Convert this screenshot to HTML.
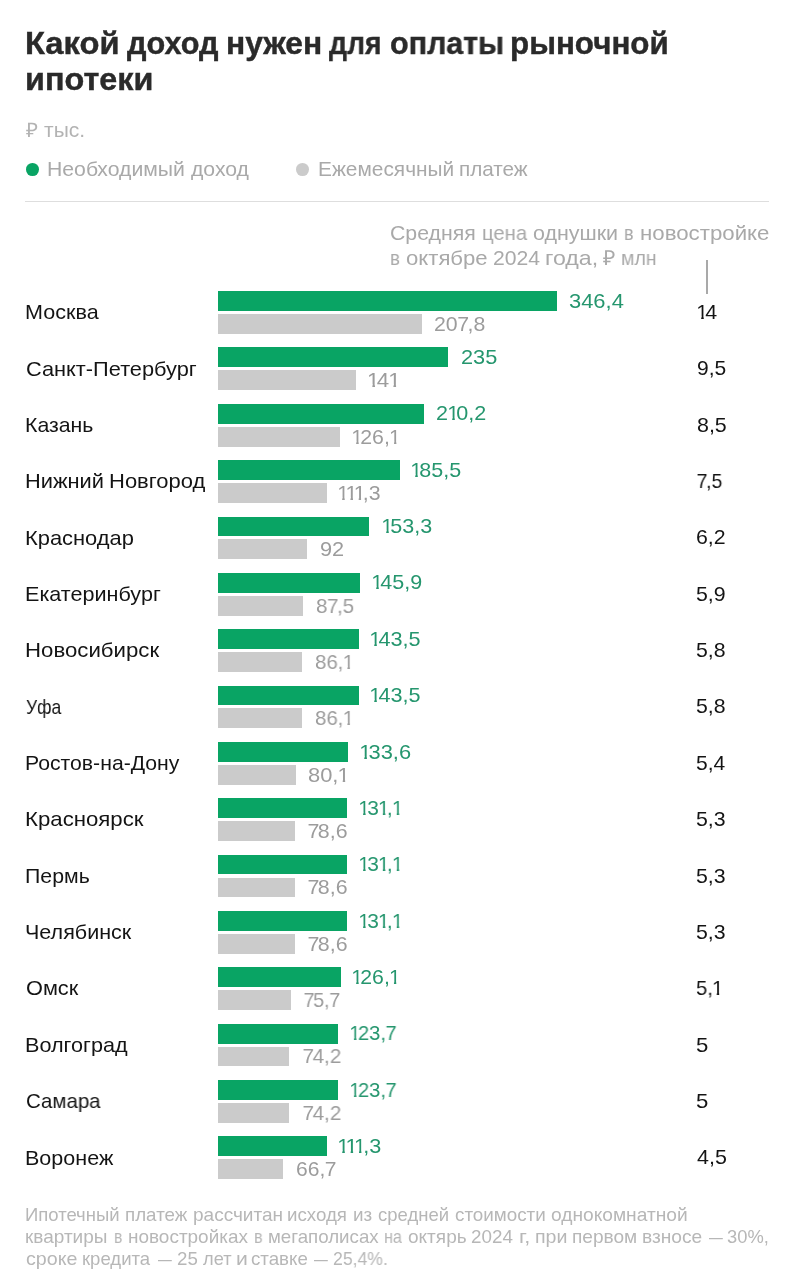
<!DOCTYPE html>
<html><head><meta charset="utf-8"><title>chart</title>
<style>
html,body{margin:0;padding:0;background:#fff;}
body{width:790px;height:1280px;position:relative;overflow:hidden;font-family:"Liberation Sans",sans-serif;}
div{position:absolute;white-space:nowrap;}
.t{transform-origin:0 50%;will-change:transform;}
.o{display:inline-block;margin:0 -0.13em 0 -0.04em;clip-path:polygon(0 0,0.355em 0,0.355em 100%,0.235em 100%,0.235em 68%,0 68%);}
.sv{margin:0 -1.5px 0 -0.5px;}
.dot{width:12.8px;height:12.8px;border-radius:50%;}
.hr{left:25px;top:201.3px;width:744px;height:1.2px;background:#dedede;}
.tick{left:706.2px;top:260px;width:1.4px;height:34px;background:#a9a9a9;}
.bar{left:218.1px;height:19.9px;}
.g{background:#09a464;}
.s{background:#cbcbcb;}
</style></head><body>
<div class="dot" style="left:25.9px;top:162.8px;background:#09a464"></div>
<div class="dot" style="left:296.3px;top:162.8px;background:#cbcbcb"></div>
<div class="hr"></div><div class="tick"></div>
<div class="bar g" style="top:291.10px;width:339.1px"></div>
<div class="bar s" style="top:314.00px;width:203.6px"></div>
<div class="bar g" style="top:347.45px;width:230.1px"></div>
<div class="bar s" style="top:370.35px;width:137.9px"></div>
<div class="bar g" style="top:403.80px;width:205.8px"></div>
<div class="bar s" style="top:426.70px;width:122.3px"></div>
<div class="bar g" style="top:460.15px;width:181.5px"></div>
<div class="bar s" style="top:483.05px;width:108.6px"></div>
<div class="bar g" style="top:516.50px;width:151.0px"></div>
<div class="bar s" style="top:539.40px;width:89.0px"></div>
<div class="bar g" style="top:572.85px;width:142.2px"></div>
<div class="bar s" style="top:595.75px;width:85.4px"></div>
<div class="bar g" style="top:629.20px;width:140.6px"></div>
<div class="bar s" style="top:652.10px;width:84.2px"></div>
<div class="bar g" style="top:685.55px;width:140.6px"></div>
<div class="bar s" style="top:708.45px;width:84.2px"></div>
<div class="bar g" style="top:741.90px;width:130.4px"></div>
<div class="bar s" style="top:764.80px;width:77.7px"></div>
<div class="bar g" style="top:798.25px;width:128.9px"></div>
<div class="bar s" style="top:821.15px;width:76.5px"></div>
<div class="bar g" style="top:854.60px;width:128.9px"></div>
<div class="bar s" style="top:877.50px;width:76.5px"></div>
<div class="bar g" style="top:910.95px;width:128.9px"></div>
<div class="bar s" style="top:933.85px;width:76.5px"></div>
<div class="bar g" style="top:967.30px;width:122.8px"></div>
<div class="bar s" style="top:990.20px;width:72.7px"></div>
<div class="bar g" style="top:1023.65px;width:120.3px"></div>
<div class="bar s" style="top:1046.55px;width:71.4px"></div>
<div class="bar g" style="top:1080.00px;width:120.3px"></div>
<div class="bar s" style="top:1102.90px;width:71.4px"></div>
<div class="bar g" style="top:1136.35px;width:108.9px"></div>
<div class="bar s" style="top:1159.25px;width:64.6px"></div>
<div class="t" style="left:25.00px;top:24.70px;font-size:30.6px;line-height:37px;color:#2a2a2a;transform:scaleX(1.0682);font-weight:bold;-webkit-text-stroke:0.4px #2a2a2a;">Какой</div>
<div class="t" style="left:127.00px;top:24.70px;font-size:30.6px;line-height:37px;color:#2a2a2a;transform:scaleX(1.0024);font-weight:bold;-webkit-text-stroke:0.4px #2a2a2a;">доход</div>
<div class="t" style="left:226.00px;top:24.70px;font-size:30.6px;line-height:37px;color:#2a2a2a;transform:scaleX(1.0388);font-weight:bold;-webkit-text-stroke:0.4px #2a2a2a;">нужен</div>
<div class="t" style="left:329.00px;top:24.70px;font-size:30.6px;line-height:37px;color:#2a2a2a;transform:scaleX(0.9276);font-weight:bold;-webkit-text-stroke:0.4px #2a2a2a;">для</div>
<div class="t" style="left:389.96px;top:24.70px;font-size:30.6px;line-height:37px;color:#2a2a2a;transform:scaleX(0.9951);font-weight:bold;-webkit-text-stroke:0.4px #2a2a2a;">оплаты</div>
<div class="t" style="left:509.89px;top:24.70px;font-size:30.6px;line-height:37px;color:#2a2a2a;transform:scaleX(1.0242);font-weight:bold;-webkit-text-stroke:0.4px #2a2a2a;">рыночной</div>
<div class="t" style="left:25.00px;top:60.70px;font-size:30.6px;line-height:37px;color:#2a2a2a;transform:scaleX(1.0576);font-weight:bold;-webkit-text-stroke:0.4px #2a2a2a;">ипотеки</div>
<div class="t" style="left:25.75px;top:118.17px;font-size:20px;line-height:24px;color:#b3b3b3;transform:scaleX(1.0319);">₽</div>
<div class="t" style="left:44.09px;top:118.17px;font-size:20px;line-height:24px;color:#b3b3b3;transform:scaleX(1.0512);">тыс.</div>
<div class="t" style="left:47.28px;top:156.16px;font-size:20.6px;line-height:25px;color:#a9a9a9;transform:scaleX(1.0300);">Необходимый</div>
<div class="t" style="left:190.78px;top:156.16px;font-size:20.6px;line-height:25px;color:#a9a9a9;transform:scaleX(1.0297);">доход</div>
<div class="t" style="left:317.90px;top:156.16px;font-size:20.6px;line-height:25px;color:#a9a9a9;transform:scaleX(1.0130);">Ежемесячный</div>
<div class="t" style="left:459.21px;top:156.16px;font-size:20.6px;line-height:25px;color:#a9a9a9;transform:scaleX(1.0036);">платеж</div>
<div class="t" style="left:390.00px;top:219.76px;font-size:20.6px;line-height:25px;color:#a9a9a9;transform:scaleX(1.0324);">Средняя</div>
<div class="t" style="left:481.74px;top:219.76px;font-size:20.6px;line-height:25px;color:#a9a9a9;transform:scaleX(0.9832);">цена</div>
<div class="t" style="left:533.29px;top:219.76px;font-size:20.6px;line-height:25px;color:#a9a9a9;transform:scaleX(1.0406);">однушки</div>
<div class="t" style="left:623.97px;top:219.76px;font-size:20.6px;line-height:25px;color:#a9a9a9;transform:scaleX(0.8705);">в</div>
<div class="t" style="left:640.34px;top:219.76px;font-size:20.6px;line-height:25px;color:#a9a9a9;transform:scaleX(1.0801);">новостройке</div>
<div class="t" style="left:389.89px;top:245.36px;font-size:20.6px;line-height:25px;color:#a9a9a9;transform:scaleX(0.9110);">в</div>
<div class="t" style="left:405.50px;top:245.36px;font-size:20.6px;line-height:25px;color:#a9a9a9;transform:scaleX(1.0748);">октябре</div>
<div class="t" style="left:493.00px;top:245.36px;font-size:20.6px;line-height:25px;color:#a9a9a9;transform:scaleX(1.0274);"><span class="n">2024</span></div>
<div class="t" style="left:545.10px;top:245.36px;font-size:20.6px;line-height:25px;color:#a9a9a9;transform:scaleX(1.1236);">года,</div>
<div class="t" style="left:602.78px;top:245.36px;font-size:20.6px;line-height:25px;color:#a9a9a9;transform:scaleX(1.0345);">₽</div>
<div class="t" style="left:620.82px;top:245.36px;font-size:20.6px;line-height:25px;color:#a9a9a9;transform:scaleX(0.9453);">млн</div>
<div class="t" style="left:25.07px;top:299.26px;font-size:20.6px;line-height:25px;color:#141414;transform:scaleX(1.0473);">Москва</div>
<div class="t" style="left:568.90px;top:287.72px;font-size:21px;line-height:25px;color:#25966e;transform:scaleX(1.0435);"><span class="n">346,4</span></div>
<div class="t" style="left:433.50px;top:310.82px;font-size:21px;line-height:25px;color:#9c9c9c;transform:scaleX(1.0137);"><span class="n">20<span class="sv">7</span>,8</span></div>
<div class="t" style="left:696.59px;top:299.02px;font-size:21px;line-height:25px;color:#141414;transform:scaleX(1.0201);"><span class="n"><span class="o">1</span>4</span></div>
<div class="t" style="left:25.80px;top:355.61px;font-size:20.6px;line-height:25px;color:#141414;transform:scaleX(1.0573);">Санкт-Петербург</div>
<div class="t" style="left:461.00px;top:344.07px;font-size:21px;line-height:25px;color:#25966e;transform:scaleX(1.0354);"><span class="n">235</span></div>
<div class="t" style="left:368.33px;top:367.17px;font-size:21px;line-height:25px;color:#9c9c9c;transform:scaleX(1.0624);"><span class="n"><span class="o">1</span>4<span class="o">1</span></span></div>
<div class="t" style="left:696.50px;top:355.37px;font-size:21px;line-height:25px;color:#141414;transform:scaleX(0.9995);"><span class="n">9,5</span></div>
<div class="t" style="left:25.15px;top:411.96px;font-size:20.6px;line-height:25px;color:#141414;transform:scaleX(1.0336);">Казань</div>
<div class="t" style="left:436.00px;top:400.42px;font-size:21px;line-height:25px;color:#25966e;transform:scaleX(1.0262);"><span class="n">2<span class="o">1</span>0,2</span></div>
<div class="t" style="left:351.83px;top:423.52px;font-size:21px;line-height:25px;color:#9c9c9c;transform:scaleX(1.0145);"><span class="n"><span class="o">1</span>26,<span class="o">1</span></span></div>
<div class="t" style="left:696.50px;top:411.72px;font-size:21px;line-height:25px;color:#141414;transform:scaleX(1.0206);"><span class="n">8,5</span></div>
<div class="t" style="left:24.99px;top:468.31px;font-size:20.6px;line-height:25px;color:#141414;transform:scaleX(1.0596);">Нижний</div>
<div class="t" style="left:108.94px;top:468.31px;font-size:20.6px;line-height:25px;color:#141414;transform:scaleX(1.0678);">Новгород</div>
<div class="t" style="left:411.22px;top:456.77px;font-size:21px;line-height:25px;color:#25966e;transform:scaleX(1.0242);"><span class="n"><span class="o">1</span>85,5</span></div>
<div class="t" style="left:338.31px;top:479.87px;font-size:21px;line-height:25px;color:#9c9c9c;transform:scaleX(1.0143);"><span class="n"><span class="o">1</span><span class="o">1</span><span class="o">1</span>,3</span></div>
<div class="t" style="left:697.35px;top:468.07px;font-size:21px;line-height:25px;color:#141414;transform:scaleX(0.9329);"><span class="n"><span class="sv">7</span>,5</span></div>
<div class="t" style="left:24.98px;top:524.66px;font-size:20.6px;line-height:25px;color:#141414;transform:scaleX(1.0626);">Краснодар</div>
<div class="t" style="left:381.72px;top:513.12px;font-size:21px;line-height:25px;color:#25966e;transform:scaleX(1.0241);"><span class="n"><span class="o">1</span>53,3</span></div>
<div class="t" style="left:320.00px;top:536.22px;font-size:21px;line-height:25px;color:#9c9c9c;transform:scaleX(1.0366);"><span class="n">92</span></div>
<div class="t" style="left:696.41px;top:524.42px;font-size:21px;line-height:25px;color:#141414;transform:scaleX(1.0152);"><span class="n">6,2</span></div>
<div class="t" style="left:25.06px;top:581.01px;font-size:20.6px;line-height:25px;color:#141414;transform:scaleX(1.0479);">Екатеринбург</div>
<div class="t" style="left:372.22px;top:569.47px;font-size:21px;line-height:25px;color:#25966e;transform:scaleX(1.0244);"><span class="n"><span class="o">1</span>45,9</span></div>
<div class="t" style="left:316.00px;top:592.57px;font-size:21px;line-height:25px;color:#9c9c9c;transform:scaleX(0.9787);"><span class="n">8<span class="sv">7</span>,5</span></div>
<div class="t" style="left:696.33px;top:580.77px;font-size:21px;line-height:25px;color:#141414;transform:scaleX(1.0158);"><span class="n">5,9</span></div>
<div class="t" style="left:24.89px;top:637.36px;font-size:20.6px;line-height:25px;color:#141414;transform:scaleX(1.0785);">Новосибирск</div>
<div class="t" style="left:370.19px;top:625.82px;font-size:21px;line-height:25px;color:#25966e;transform:scaleX(1.0316);"><span class="n"><span class="o">1</span>43,5</span></div>
<div class="t" style="left:314.50px;top:648.92px;font-size:21px;line-height:25px;color:#9c9c9c;transform:scaleX(0.9738);"><span class="n">86,<span class="o">1</span></span></div>
<div class="t" style="left:696.35px;top:637.12px;font-size:21px;line-height:25px;color:#141414;transform:scaleX(1.0126);"><span class="n">5,8</span></div>
<div class="t" style="left:26.37px;top:693.71px;font-size:20.6px;line-height:25px;color:#141414;transform:scaleX(0.8500);">Уфа</div>
<div class="t" style="left:370.19px;top:682.17px;font-size:21px;line-height:25px;color:#25966e;transform:scaleX(1.0316);"><span class="n"><span class="o">1</span>43,5</span></div>
<div class="t" style="left:314.50px;top:705.27px;font-size:21px;line-height:25px;color:#9c9c9c;transform:scaleX(0.9738);"><span class="n">86,<span class="o">1</span></span></div>
<div class="t" style="left:696.35px;top:693.47px;font-size:21px;line-height:25px;color:#141414;transform:scaleX(1.0126);"><span class="n">5,8</span></div>
<div class="t" style="left:25.15px;top:750.06px;font-size:20.6px;line-height:25px;color:#141414;transform:scaleX(1.0294);">Ростов-на-Дону</div>
<div class="t" style="left:359.62px;top:738.52px;font-size:21px;line-height:25px;color:#25966e;transform:scaleX(1.0419);"><span class="n"><span class="o">1</span>33,6</span></div>
<div class="t" style="left:308.00px;top:761.62px;font-size:21px;line-height:25px;color:#9c9c9c;transform:scaleX(1.0423);"><span class="n">80,<span class="o">1</span></span></div>
<div class="t" style="left:696.37px;top:749.82px;font-size:21px;line-height:25px;color:#141414;transform:scaleX(1.0023);"><span class="n">5,4</span></div>
<div class="t" style="left:24.90px;top:806.41px;font-size:20.6px;line-height:25px;color:#141414;transform:scaleX(1.0782);">Красноярск</div>
<div class="t" style="left:359.39px;top:794.87px;font-size:21px;line-height:25px;color:#25966e;transform:scaleX(0.9936);"><span class="n"><span class="o">1</span>3<span class="o">1</span>,<span class="o">1</span></span></div>
<div class="t" style="left:308.43px;top:817.97px;font-size:21px;line-height:25px;color:#9c9c9c;transform:scaleX(1.0165);"><span class="n"><span class="sv">7</span>8,6</span></div>
<div class="t" style="left:696.33px;top:806.17px;font-size:21px;line-height:25px;color:#141414;transform:scaleX(1.0149);"><span class="n">5,3</span></div>
<div class="t" style="left:25.21px;top:862.76px;font-size:20.6px;line-height:25px;color:#141414;transform:scaleX(1.0345);">Пермь</div>
<div class="t" style="left:359.39px;top:851.22px;font-size:21px;line-height:25px;color:#25966e;transform:scaleX(0.9936);"><span class="n"><span class="o">1</span>3<span class="o">1</span>,<span class="o">1</span></span></div>
<div class="t" style="left:308.43px;top:874.32px;font-size:21px;line-height:25px;color:#9c9c9c;transform:scaleX(1.0165);"><span class="n"><span class="sv">7</span>8,6</span></div>
<div class="t" style="left:696.33px;top:862.52px;font-size:21px;line-height:25px;color:#141414;transform:scaleX(1.0149);"><span class="n">5,3</span></div>
<div class="t" style="left:25.44px;top:919.11px;font-size:20.6px;line-height:25px;color:#141414;transform:scaleX(1.0451);">Челябинск</div>
<div class="t" style="left:359.39px;top:907.57px;font-size:21px;line-height:25px;color:#25966e;transform:scaleX(0.9936);"><span class="n"><span class="o">1</span>3<span class="o">1</span>,<span class="o">1</span></span></div>
<div class="t" style="left:308.43px;top:930.67px;font-size:21px;line-height:25px;color:#9c9c9c;transform:scaleX(1.0165);"><span class="n"><span class="sv">7</span>8,6</span></div>
<div class="t" style="left:696.33px;top:918.87px;font-size:21px;line-height:25px;color:#141414;transform:scaleX(1.0149);"><span class="n">5,3</span></div>
<div class="t" style="left:26.00px;top:975.46px;font-size:20.6px;line-height:25px;color:#141414;transform:scaleX(1.0562);">Омск</div>
<div class="t" style="left:351.82px;top:963.92px;font-size:21px;line-height:25px;color:#25966e;transform:scaleX(1.0122);"><span class="n"><span class="o">1</span>26,<span class="o">1</span></span></div>
<div class="t" style="left:304.47px;top:987.02px;font-size:21px;line-height:25px;color:#9c9c9c;transform:scaleX(0.9423);"><span class="n"><span class="sv">7</span>5,<span class="sv">7</span></span></div>
<div class="t" style="left:696.40px;top:975.22px;font-size:21px;line-height:25px;color:#141414;transform:scaleX(0.9605);"><span class="n">5,<span class="o">1</span></span></div>
<div class="t" style="left:25.05px;top:1031.81px;font-size:20.6px;line-height:25px;color:#141414;transform:scaleX(1.0498);">Волгоград</div>
<div class="t" style="left:349.94px;top:1020.27px;font-size:21px;line-height:25px;color:#25966e;transform:scaleX(0.9637);"><span class="n"><span class="o">1</span>23,<span class="sv">7</span></span></div>
<div class="t" style="left:302.97px;top:1043.37px;font-size:21px;line-height:25px;color:#9c9c9c;transform:scaleX(0.9855);"><span class="n"><span class="sv">7</span>4,2</span></div>
<div class="t" style="left:696.20px;top:1031.57px;font-size:21px;line-height:25px;color:#141414;transform:scaleX(1.0548);"><span class="n">5</span></div>
<div class="t" style="left:25.95px;top:1088.16px;font-size:20.6px;line-height:25px;color:#141414;transform:scaleX(0.9933);">Самара</div>
<div class="t" style="left:349.94px;top:1076.62px;font-size:21px;line-height:25px;color:#25966e;transform:scaleX(0.9637);"><span class="n"><span class="o">1</span>23,<span class="sv">7</span></span></div>
<div class="t" style="left:302.97px;top:1099.72px;font-size:21px;line-height:25px;color:#9c9c9c;transform:scaleX(0.9855);"><span class="n"><span class="sv">7</span>4,2</span></div>
<div class="t" style="left:696.20px;top:1087.92px;font-size:21px;line-height:25px;color:#141414;transform:scaleX(1.0548);"><span class="n">5</span></div>
<div class="t" style="left:25.09px;top:1144.51px;font-size:20.6px;line-height:25px;color:#141414;transform:scaleX(1.0451);">Воронеж</div>
<div class="t" style="left:338.19px;top:1132.97px;font-size:21px;line-height:25px;color:#25966e;transform:scaleX(1.0306);"><span class="n"><span class="o">1</span><span class="o">1</span><span class="o">1</span>,3</span></div>
<div class="t" style="left:295.98px;top:1156.07px;font-size:21px;line-height:25px;color:#9c9c9c;transform:scaleX(1.0010);"><span class="n">66,<span class="sv">7</span></span></div>
<div class="t" style="left:696.77px;top:1144.27px;font-size:21px;line-height:25px;color:#141414;transform:scaleX(1.0228);"><span class="n">4,5</span></div>
<div class="t" style="left:25.40px;top:1205.43px;font-size:17.8px;line-height:21px;color:#b7b7b7;transform:scaleX(1.0400);">Ипотечный</div>
<div class="t" style="left:124.84px;top:1205.43px;font-size:17.8px;line-height:21px;color:#b7b7b7;transform:scaleX(1.0551);">платеж</div>
<div class="t" style="left:192.59px;top:1205.43px;font-size:17.8px;line-height:21px;color:#b7b7b7;transform:scaleX(1.0695);">рассчитан</div>
<div class="t" style="left:287.37px;top:1205.43px;font-size:17.8px;line-height:21px;color:#b7b7b7;transform:scaleX(1.0513);">исходя</div>
<div class="t" style="left:352.89px;top:1205.43px;font-size:17.8px;line-height:21px;color:#b7b7b7;transform:scaleX(1.0586);">из</div>
<div class="t" style="left:377.81px;top:1205.43px;font-size:17.8px;line-height:21px;color:#b7b7b7;transform:scaleX(1.0393);">средней</div>
<div class="t" style="left:455.27px;top:1205.43px;font-size:17.8px;line-height:21px;color:#b7b7b7;transform:scaleX(1.0584);">стоимости</div>
<div class="t" style="left:551.20px;top:1205.43px;font-size:17.8px;line-height:21px;color:#b7b7b7;transform:scaleX(1.0779);">однокомнатной</div>
<div class="t" style="left:25.47px;top:1227.33px;font-size:17.8px;line-height:21px;color:#b7b7b7;transform:scaleX(1.0685);">квартиры</div>
<div class="t" style="left:113.67px;top:1227.33px;font-size:17.8px;line-height:21px;color:#b7b7b7;transform:scaleX(0.8842);">в</div>
<div class="t" style="left:127.82px;top:1227.33px;font-size:17.8px;line-height:21px;color:#b7b7b7;transform:scaleX(1.0658);">новостройках</div>
<div class="t" style="left:253.64px;top:1227.33px;font-size:17.8px;line-height:21px;color:#b7b7b7;transform:scaleX(0.9120);">в</div>
<div class="t" style="left:267.87px;top:1227.33px;font-size:17.8px;line-height:21px;color:#b7b7b7;transform:scaleX(1.0521);">мегаполисах</div>
<div class="t" style="left:383.61px;top:1227.33px;font-size:17.8px;line-height:21px;color:#b7b7b7;transform:scaleX(0.9132);">на</div>
<div class="t" style="left:408.25px;top:1227.33px;font-size:17.8px;line-height:21px;color:#b7b7b7;transform:scaleX(1.0703);">октярь</div>
<div class="t" style="left:471.00px;top:1227.33px;font-size:17.8px;line-height:21px;color:#b7b7b7;transform:scaleX(1.0576);"><span class="n">2024</span></div>
<div class="t" style="left:518.99px;top:1227.33px;font-size:17.8px;line-height:21px;color:#b7b7b7;transform:scaleX(1.2200);">г,</div>
<div class="t" style="left:535.18px;top:1227.33px;font-size:17.8px;line-height:21px;color:#b7b7b7;transform:scaleX(1.1029);">при</div>
<div class="t" style="left:572.27px;top:1227.33px;font-size:17.8px;line-height:21px;color:#b7b7b7;transform:scaleX(1.0737);">первом</div>
<div class="t" style="left:641.77px;top:1227.33px;font-size:17.8px;line-height:21px;color:#b7b7b7;transform:scaleX(1.0778);">взносе</div>
<div class="t" style="left:708.50px;top:1227.33px;font-size:17.8px;line-height:21px;color:#b7b7b7;transform:scaleX(0.7647);">—</div>
<div class="t" style="left:727.43px;top:1227.33px;font-size:17.8px;line-height:21px;color:#b7b7b7;transform:scaleX(1.0314);">30%,</div>
<div class="t" style="left:26.12px;top:1249.13px;font-size:17.8px;line-height:21px;color:#b7b7b7;transform:scaleX(1.1043);">сроке</div>
<div class="t" style="left:82.06px;top:1249.13px;font-size:17.8px;line-height:21px;color:#b7b7b7;transform:scaleX(1.0436);">кредита</div>
<div class="t" style="left:158.00px;top:1249.13px;font-size:17.8px;line-height:21px;color:#b7b7b7;transform:scaleX(0.7647);">—</div>
<div class="t" style="left:177.00px;top:1249.13px;font-size:17.8px;line-height:21px;color:#b7b7b7;transform:scaleX(1.0520);"><span class="n">25</span></div>
<div class="t" style="left:203.00px;top:1249.13px;font-size:17.8px;line-height:21px;color:#b7b7b7;transform:scaleX(1.0241);">лет</div>
<div class="t" style="left:235.80px;top:1249.13px;font-size:17.8px;line-height:21px;color:#b7b7b7;transform:scaleX(1.1897);">и</div>
<div class="t" style="left:251.31px;top:1249.13px;font-size:17.8px;line-height:21px;color:#b7b7b7;transform:scaleX(1.0524);">ставке</div>
<div class="t" style="left:313.50px;top:1249.13px;font-size:17.8px;line-height:21px;color:#b7b7b7;transform:scaleX(0.7688);">—</div>
<div class="t" style="left:333.43px;top:1249.13px;font-size:17.8px;line-height:21px;color:#b7b7b7;transform:scaleX(0.9899);">25,4%.</div>
</body></html>
